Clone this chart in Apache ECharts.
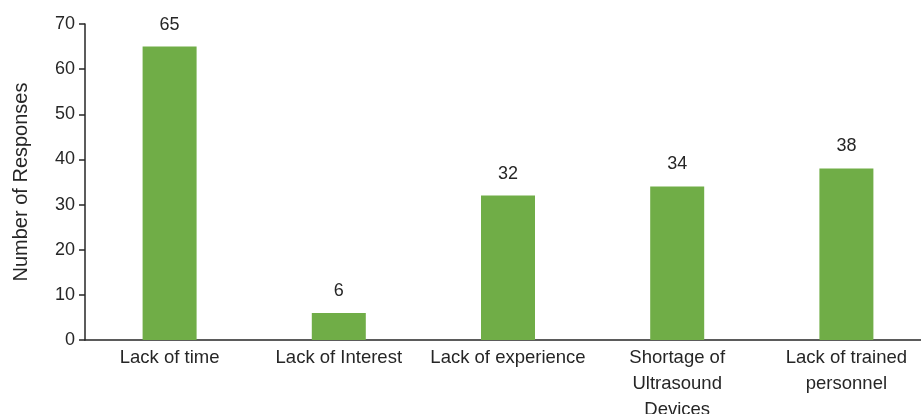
<!DOCTYPE html>
<html><head><meta charset="utf-8">
<script src="https://cdn.jsdelivr.net/npm/echarts@6/dist/echarts.min.js"></script>
<style>html,body{margin:0;padding:0;background:#fff}#c{width:921px;height:414px}</style>
</head><body><div id="c"></div>
<script>
const categories = ["Lack of time", "Lack of Interest", "Lack of experience", "Shortage of\nUltrasound\nDevices", "Lack of trained\npersonnel"];
const values = [65, 6, 32, 34, 38];
const yTicks = {min: 0, max: 70, interval: 10};
const FONT = "'Liberation Sans', Arial, sans-serif";
const chart = echarts.init(document.getElementById('c'), null, {renderer: 'canvas'});
chart.setOption({
  animation: false,
  grid: {left: 85, right: -10, top: 24, bottom: 74, containLabel: false, outerBoundsMode: 'none'},
  xAxis: {
    type: 'category', data: categories,
    axisLine: {lineStyle: {color: '#262626', width: 1.5}},
    axisTick: {show: false},
    axisLabel: {color: '#262626', fontSize: 18.5, fontFamily: FONT, lineHeight: 26, margin: 5, interval: 0}
  },
  yAxis: {
    type: 'value', min: yTicks.min, max: yTicks.max, interval: yTicks.interval,
    name: 'Number of Responses', nameLocation: 'middle', nameGap: 54,
    nameTextStyle: {color: '#262626', fontSize: 20, fontFamily: FONT},
    axisLine: {show: true, lineStyle: {color: '#262626', width: 1.5}},
    axisTick: {show: true, length: 6, lineStyle: {color: '#262626', width: 1.5}},
    splitLine: {show: false},
    axisLabel: {color: '#262626', fontSize: 18, fontFamily: FONT, margin: 10}
  },
  series: [{
    type: 'bar', data: values, barWidth: 54,
    itemStyle: {color: '#70AD47'},
    label: {show: true, position: 'top', distance: 13, color: '#262626', fontSize: 18, fontFamily: FONT}
  }]
});
</script></body></html>
